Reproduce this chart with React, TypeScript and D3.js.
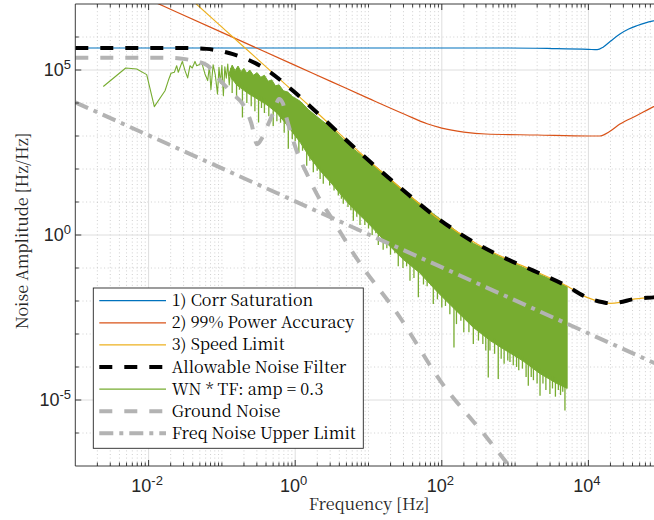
import React from "react";
import * as d3 from "d3";

type P = [number, number];

// All series: [log10 frequency (Hz), log10 amplitude (Hz/Hz)]
const corrSaturation: P[] = [
  [-3, 5.667], [2.9, 5.667], [3.5, 5.65], [4.0, 5.625], [4.12, 5.615], [4.2, 5.69],
  [4.3, 5.87], [4.43, 6.09], [4.55, 6.24], [4.66, 6.34], [4.78, 6.43], [4.89, 6.49], [5.0, 6.54],
];
const powerAccuracy: P[] = [
  [-2.2, 7.34], [-1, 6.14], [0, 5.14], [0.5, 4.64], [1.0, 4.14], [1.5, 3.65], [1.8, 3.37],
  [2.0, 3.24], [2.3, 3.12], [2.6, 3.06], [3.3, 3.03], [4.0, 3.0], [4.15, 3.0], [4.3, 3.15],
  [4.43, 3.36], [4.66, 3.62], [4.89, 3.89], [5.0, 4.0],
];
const speedLimit: P[] = [
  [-1.45, 7.2], [-1, 6.3], [-0.5, 5.3], [0, 4.3], [0.34, 3.62], [0.88, 2.5], [1.43, 1.44],
  [1.93, 0.53], [2.48, -0.27], [2.89, -0.73], [3.25, -1.08], [3.7, -1.54], [3.98, -1.89],
  [4.2, -2.04], [4.3, -2.07], [4.43, -2.04], [4.6, -1.95], [4.89, -1.89], [5.0, -1.87],
];
const allowableNoise: P[] = [
  [-3, 5.667], [-1.5, 5.667], [-1.21, 5.64], [-0.85, 5.48], [-0.44, 5.08], [-0.03, 4.37],
  [0.34, 3.62], [0.88, 2.5], [1.43, 1.44], [1.93, 0.53], [2.48, -0.27], [2.89, -0.73],
  [3.25, -1.08], [3.7, -1.54], [3.98, -1.89], [4.2, -2.04], [4.3, -2.07], [4.43, -2.04],
  [4.6, -1.95], [4.89, -1.89], [5.0, -1.87],
];
const groundNoise: P[] = [
  [-3, 5.37], [-1.7, 5.37], [-1.5, 5.33], [-1.35, 5.26], [-1.2, 5.14], [-1.03, 4.7],
  [-0.85, 4.27], [-0.71, 3.95], [-0.6, 3.4], [-0.52, 2.75], [-0.45, 2.95], [-0.37, 3.35],
  [-0.29, 3.75], [-0.22, 4.12], [-0.17, 4.0], [-0.12, 3.56], [0.02, 2.55], [0.16, 1.85],
  [0.32, 1.14], [0.52, 0.43], [0.8, -0.58], [1.43, -2.5], [1.98, -4.42], [2.61, -6.13],
  [3.2, -7.8],
];
const freqNoiseUpper: P[] = [[-3, 4.02], [5, -3.98]];

// WN * TF: sparse low-frequency trace, then the dense band (top/bottom edges) and its downward spikes
const wnLine: P[] = [
  [-2.618, 4.5], [-2.312, 5.06], [-2.162, 5.03], [-2.026, 4.86], [-1.922, 3.89], [-1.776, 4.37],
  [-1.731, 4.68], [-1.694, 4.9], [-1.649, 4.93], [-1.617, 5.13], [-1.595, 4.93], [-1.54, 5.26],
  [-1.503, 4.98], [-1.467, 4.76], [-1.435, 5.13], [-1.404, 5.06], [-1.367, 5.26], [-1.344, 5.13],
  [-1.312, 5.16], [-1.276, 5.23], [-1.231, 4.88], [-1.194, 4.68], [-1.17, 5.12], [-1.15, 4.4],
  [-1.12, 5.16], [-1.09, 4.85], [-1.06, 4.27], [-1.04, 5.08], [-1.02, 4.6], [-1.0, 5.14],
  [-0.98, 4.22], [-0.96, 5.1], [-0.94, 4.75], [-0.92, 5.18], [-0.9, 4.55], [-0.88, 5.05], [-0.86, 4.7],
];
const wnBandTop: P[] = [
  [-0.9, 4.9], [-0.86, 5.15], [-0.82, 4.98], [-0.78, 5.12], [-0.74, 4.95], [-0.7, 5.05],
  [-0.66, 4.9], [-0.62, 5.0], [-0.57, 4.84], [-0.52, 4.92], [-0.47, 4.78], [-0.42, 4.84],
  [-0.37, 4.66], [-0.32, 4.7], [-0.27, 4.52], [-0.22, 4.55], [-0.16, 4.37], [-0.1, 4.33],
  [-0.04, 4.2], [0.07, 4.05], [0.18, 3.8], [0.3, 3.58], [0.52, 3.2], [0.8, 2.6], [1.0, 2.25],
  [1.25, 1.8], [1.5, 1.3], [1.7, 0.95], [2.0, 0.45], [2.2, 0.12], [2.43, -0.25], [2.65, -0.5],
  [2.89, -0.76], [3.1, -0.97], [3.34, -1.2], [3.55, -1.4], [3.71, -1.56],
];
const wnBandBottom: P[] = [
  [-0.9, 4.85], [-0.8, 4.55], [-0.65, 4.3], [-0.5, 4.1], [-0.39, 3.95], [-0.25, 3.7],
  [-0.1, 3.3], [0.07, 2.8], [0.2, 2.35], [0.34, 1.95], [0.5, 1.55], [0.65, 1.15], [0.79, 0.8],
  [1.02, 0.3], [1.25, -0.25], [1.48, -0.75], [1.7, -1.15], [1.95, -1.75], [2.2, -2.3],
  [2.43, -2.8], [2.66, -3.2], [2.89, -3.52], [3.11, -3.82], [3.34, -4.2], [3.57, -4.5], [3.71, -4.65],
];
const wnSpikes: P[] = [
  [-0.86, 4.3], [-0.8, 4.15], [-0.76, 4.4], [-0.72, 3.56], [-0.66, 4.0], [-0.6, 3.9], [-0.55, 3.75],
  [-0.5, 3.41], [-0.46, 3.85], [-0.42, 3.7], [-0.36, 3.6], [-0.3, 3.3], [-0.25, 3.45], [-0.2, 3.4],
  [-0.15, 3.1], [-0.094, 2.61], [-0.04, 2.9], [0.0, 2.85], [0.05, 2.5], [0.1, 2.55], [0.157, 2.1],
  [0.2, 2.25], [0.247, 1.9], [0.3, 1.95], [0.34, 1.7], [0.383, 1.55], [0.42, 1.75], [0.47, 1.5],
  [0.53, 1.35], [0.588, 1.2], [0.63, 1.1], [0.656, 0.95], [0.72, 0.85], [0.76, 0.75], [0.793, 0.43],
  [0.84, 0.55], [0.884, 0.3], [0.95, 0.3], [1.0, 0.2], [1.05, 0.0], [1.1, 0.05], [1.134, -0.3],
  [1.2, -0.45], [1.25, -0.4], [1.3, -0.6], [1.36, -0.55], [1.406, -0.95], [1.47, -1.0],
  [1.52, -0.95], [1.566, -1.39], [1.62, -1.3], [1.68, -1.89], [1.75, -1.5], [1.8, -1.55],
  [1.884, -2.09], [1.94, -1.95], [2.0, -2.2], [2.05, -2.15], [2.11, -2.4], [2.166, -3.41],
  [2.2, -2.7], [2.26, -2.6], [2.3, -2.95], [2.37, -2.95], [2.43, -3.3], [2.5, -3.2], [2.56, -3.3],
  [2.6, -3.5], [2.634, -4.32], [2.657, -3.5], [2.72, -3.6], [2.77, -4.36], [2.81, -3.75],
  [2.85, -3.9], [2.9, -3.8], [2.93, -3.85], [2.975, -3.95], [3.02, -4.0], [3.05, -4.1],
  [3.1, -4.05], [3.15, -4.3], [3.18, -4.57], [3.22, -4.3], [3.25, -4.4], [3.3, -4.5], [3.34, -4.87],
  [3.38, -4.5], [3.42, -4.7], [3.475, -4.82], [3.51, -4.65], [3.55, -4.9], [3.59, -4.7],
  [3.62, -4.85], [3.65, -4.75], [3.68, -5.32],
];

const xTickExps = [-2, 0, 2, 4];
const yTickExps = [-5, 0, 5];
const legendLabels = [
  "1) Corr Saturation",
  "2) 99% Power Accuracy",
  "3) Speed Limit",
  "Allowable Noise Filter",
  "WN * TF: amp = 0.3",
  "Ground Noise",
  "Freq Noise Upper Limit",
];

const BLUE = "#0072BD";
const RED = "#D95319";
const YELLOW = "#EDB120";
const GREEN = "#77AC30";
const GRAY = "#b3b3b3";
const AX = "#262626";
const SANS = '"Liberation Sans", Arial, Helvetica, sans-serif';
const SERIF = '"Noto Serif CJK SC", "Liberation Serif", serif';

export default function App() {
  const W = 654, H = 520;
  const L = 75.3, R = 661.7, T = 4, B = 466;
  const x = d3.scaleLog().domain([1e-3, 1e5]).range([L, R]);
  const y = d3.scaleLog().domain([1e-7, 1e7]).range([B, T]);
  const px = (d: P) => x(Math.pow(10, d[0]));
  const py = (d: P) => y(Math.pow(10, d[1]));
  const smooth = d3.line<P>().x(px).y(py).curve(d3.curveMonotoneX);
  const straight = d3.line<P>().x(px).y(py);

  const bis = d3.bisector((d: P) => d[0]).left;
  const interp = (arr: P[], lx: number) => {
    const i = bis(arr, lx);
    if (i <= 0) return arr[0][1];
    if (i >= arr.length) return arr[arr.length - 1][1];
    const a = arr[i - 1], b = arr[i];
    const t = (lx - a[0]) / (b[0] - a[0]);
    return a[1] + t * (b[1] - a[1]);
  };

  const xMinor: number[] = [];
  for (let e = -3; e <= 4; e++) {
    for (let k = 1; k <= 9; k++) {
      if (k === 1 && (e % 2 === 0 || e === -3)) continue;
      xMinor.push(k * Math.pow(10, e));
    }
  }
  const xMajor = xTickExps.map((e) => Math.pow(10, e));
  const yMinor: number[] = [];
  for (let e = -6; e <= 6; e++) if (e % 5 !== 0) yMinor.push(Math.pow(10, e));
  const yMajor = yTickExps.map((e) => Math.pow(10, e));

  const bandPath = straight([...wnBandTop, ...wnBandBottom.slice().reverse()]) + "Z";

  const legendStyles = [
    { c: BLUE, w: 1.2, dash: undefined as string | undefined },
    { c: RED, w: 1.2, dash: undefined },
    { c: YELLOW, w: 1.2, dash: undefined },
    { c: "#000", w: 4, dash: "13 12" },
    { c: GREEN, w: 1.2, dash: undefined },
    { c: GRAY, w: 4, dash: "13 12" },
    { c: GRAY, w: 4, dash: "14 6 4 6" },
  ];

  const lgX = 93.3, lgY = 288, lgW = 270, lgH = 160.3;
  const serifStyle = { fontFamily: SERIF, fontSize: "16.2px" };
  const sansStyle = { fontFamily: SANS };
  const expText = (e: number) => (e < 0 ? "-" + Math.abs(e) : String(e));

  return (
    <svg width={W} height={H} style={{ position: "absolute", left: 0, top: 0, background: "#fff" }}>
      <defs>
        <clipPath id="plotclip">
          <rect x={L} y={T} width={R - L} height={B - T} />
        </clipPath>
      </defs>
      <rect x={0} y={0} width={W} height={H} fill="#fff" />
      {/* grid */}
      <g>
        {xMinor.map((v, i) => (
          <line key={"xm" + i} x1={x(v)} x2={x(v)} y1={T} y2={B} stroke="#c4c4c4" strokeWidth={0.8} strokeDasharray="1 2.6" />
        ))}
        {yMinor.map((v, i) => (
          <line key={"ym" + i} x1={L} x2={R} y1={y(v)} y2={y(v)} stroke="#c4c4c4" strokeWidth={0.8} strokeDasharray="1 2.6" />
        ))}
        {xMajor.map((v, i) => (
          <line key={"xM" + i} x1={x(v)} x2={x(v)} y1={T} y2={B} stroke="#dedede" strokeWidth={1} />
        ))}
        {yMajor.map((v, i) => (
          <line key={"yM" + i} x1={L} x2={R} y1={y(v)} y2={y(v)} stroke="#dedede" strokeWidth={1} />
        ))}
      </g>
      {/* data */}
      <g clipPath="url(#plotclip)" fill="none">
        <path d={bandPath} fill={GREEN} stroke={GREEN} strokeWidth={1} strokeLinejoin="round" />
        {wnSpikes.map((s, i) => (
          <line key={"sp" + i} x1={px(s)} x2={px(s)} y1={py(s)} y2={py([s[0], interp(wnBandBottom, s[0]) + 0.15])} stroke={GREEN} strokeWidth={1.3} />
        ))}
        <path d={straight(wnLine) || ""} stroke={GREEN} strokeWidth={1.1} strokeLinejoin="round" />
        <path d={smooth(corrSaturation) || ""} stroke={BLUE} strokeWidth={1.2} />
        <path d={smooth(powerAccuracy) || ""} stroke={RED} strokeWidth={1.2} />
        <path d={smooth(speedLimit) || ""} stroke={YELLOW} strokeWidth={1.2} />
        <path d={smooth(allowableNoise) || ""} stroke="#000" strokeWidth={4} strokeDasharray="13 12" />
        <path d={smooth(groundNoise) || ""} stroke={GRAY} strokeWidth={4} strokeDasharray="13 12" />
        <path d={straight(freqNoiseUpper) || ""} stroke={GRAY} strokeWidth={4} strokeDasharray="14 6 4 6" />
      </g>
      {/* axes box */}
      <g stroke={AX} strokeWidth={0.9}>
        <line x1={L} x2={R} y1={B} y2={B} />
        <line x1={L} x2={R} y1={T} y2={T} />
        <line x1={L} x2={L} y1={T} y2={B} />
        <line x1={R} x2={R} y1={T} y2={B} />
        {xMinor.map((v, i) => (
          <g key={"xt" + i}>
            <line x1={x(v)} x2={x(v)} y1={B} y2={B - 3.5} />
            <line x1={x(v)} x2={x(v)} y1={T} y2={T + 3.5} />
          </g>
        ))}
        {xMajor.map((v, i) => (
          <g key={"xT" + i}>
            <line x1={x(v)} x2={x(v)} y1={B} y2={B - 6} />
            <line x1={x(v)} x2={x(v)} y1={T} y2={T + 6} />
          </g>
        ))}
        {yMinor.map((v, i) => (
          <g key={"yt" + i}>
            <line x1={L} x2={L + 3.5} y1={y(v)} y2={y(v)} />
            <line x1={R} x2={R - 3.5} y1={y(v)} y2={y(v)} />
          </g>
        ))}
        {yMajor.map((v, i) => (
          <g key={"yT" + i}>
            <line x1={L} x2={L + 6} y1={y(v)} y2={y(v)} />
            <line x1={R} x2={R - 6} y1={y(v)} y2={y(v)} />
          </g>
        ))}
      </g>
      {/* tick labels */}
      <g fill={AX} style={sansStyle}>
        {xTickExps.map((e) => (
          <text key={"xl" + e} x={x(Math.pow(10, e)) - 1.5} y={492} textAnchor="middle" style={{ fontSize: "18px" }}>
            10<tspan style={{ fontSize: "13px" }} dy={-7}>{expText(e)}</tspan>
          </text>
        ))}
        {yTickExps.map((e) => (
          <text key={"yl" + e} x={71} y={y(Math.pow(10, e)) + 6.4} textAnchor="end" style={{ fontSize: "18px" }}>
            10<tspan style={{ fontSize: "13px" }} dy={-7}>{expText(e)}</tspan>
          </text>
        ))}
      </g>
      {/* axis labels */}
      <text x={369} y={510} textAnchor="middle" fill={AX} style={serifStyle}>
        Frequency [Hz]
      </text>
      <text transform="translate(27.5,231) rotate(-90)" textAnchor="middle" fill={AX} style={serifStyle}>
        Noise Amplitude [Hz/Hz]
      </text>
      {/* legend */}
      <g>
        <rect x={lgX} y={lgY} width={lgW} height={lgH} fill="#fff" stroke={AX} strokeWidth={0.9} />
        {legendLabels.map((lab, i) => {
          const cy = 300.7 + i * 22.1;
          const st = legendStyles[i];
          return (
            <g key={"lg" + i}>
              <line x1={99.3} x2={166} y1={cy} y2={cy} stroke={st.c} strokeWidth={st.w} strokeDasharray={st.dash} />
              <text x={171.7} y={cy + 5.5} fill="#000" style={serifStyle}>
                {lab}
              </text>
            </g>
          );
        })}
      </g>
    </svg>
  );
}
